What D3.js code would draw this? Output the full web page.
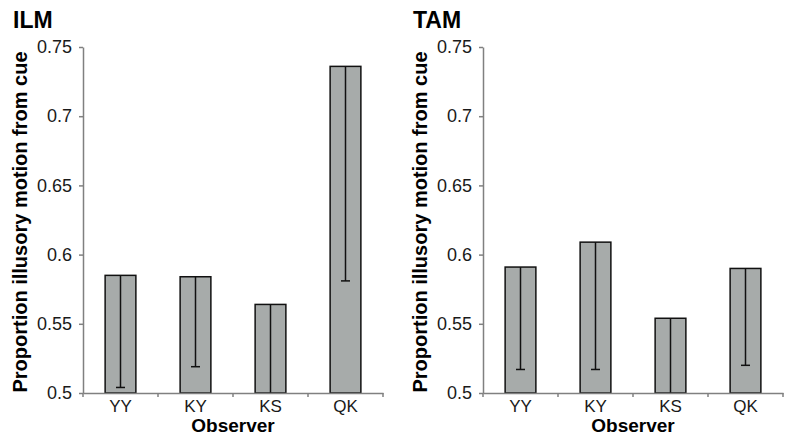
<!DOCTYPE html>
<html>
<head>
<meta charset="utf-8">
<script src="https://cdn.jsdelivr.net/npm/d3@7"></script>
<style>
  body { margin: 0; background: #fff; }
  svg { font-family: "Liberation Sans", Arial, sans-serif; }
</style>
</head>
<body>
<div id="chart"></div>
<script>
// observers on the x axis
const observers = ['YY', 'KY', 'KS', 'QK'];

// mean proportions and (minus) error sizes, per panel
const ilmMeans = [0.585, 0.584, 0.564, 0.736];
const ilmErrors = [0.081, 0.065, 0.075, 0.155];
const tamMeans = [0.591, 0.609, 0.554, 0.590];
const tamErrors = [0.074, 0.092, 0.065, 0.070];

const yTicks = [0.5, 0.55, 0.6, 0.65, 0.7, 0.75];

const panels = [
  { title: 'ILM', means: ilmMeans, errors: ilmErrors, offset: 0 },
  { title: 'TAM', means: tamMeans, errors: tamErrors, offset: 400 }
];

const svgWidth = 791;
const svgHeight = 436;

const svg = d3.select('#chart')
  .append('svg')
  .attr('width', svgWidth)
  .attr('height', svgHeight);

const axisColor = '#808080';

panels.forEach((p, pi) => {
  const g = svg.append('g').attr('transform', `translate(${p.offset},0)`);

  const x = d3.scaleBand().domain(observers).range([83, 383]).padding(0);
  const y = d3.scaleLinear().domain([0.5, 0.75]).range([393, 47]);
  const barW = x.bandwidth() * 0.41;

  const clipId = 'clip' + pi;
  g.append('clipPath').attr('id', clipId)
    .append('rect').attr('x', 83).attr('y', 40).attr('width', 300).attr('height', 353);

  const rows = observers.map((o, i) => ({ o, m: p.means[i], e: p.errors[i] }));

  // bars
  g.append('g').selectAll('rect')
    .data(rows)
    .enter().append('rect')
    .attr('x', d => x(d.o) + (x.bandwidth() - barW) / 2)
    .attr('y', d => y(d.m))
    .attr('width', barW)
    .attr('height', d => y(0.5) - y(d.m))
    .attr('fill', '#a7abaa')
    .attr('stroke', '#111')
    .attr('stroke-width', 1.5);

  // error bars (minus only)
  const eb = g.append('g').attr('clip-path', `url(#${clipId})`)
    .selectAll('g').data(rows).enter().append('g');
  eb.append('line')
    .attr('x1', d => x(d.o) + x.bandwidth() / 2)
    .attr('x2', d => x(d.o) + x.bandwidth() / 2)
    .attr('y1', d => y(d.m))
    .attr('y2', d => y(d.m - d.e))
    .attr('stroke', '#111').attr('stroke-width', 1.5);
  eb.append('line')
    .attr('x1', d => x(d.o) + x.bandwidth() / 2 - 4.5)
    .attr('x2', d => x(d.o) + x.bandwidth() / 2 + 4.5)
    .attr('y1', d => y(d.m - d.e))
    .attr('y2', d => y(d.m - d.e))
    .attr('stroke', '#111').attr('stroke-width', 1.5);

  // y axis
  const yAxis = g.append('g')
    .attr('transform', 'translate(83,0)')
    .call(d3.axisLeft(y).tickValues(yTicks).tickSize(4).tickSizeOuter(0).tickPadding(7)
      .tickFormat(d => String(+d.toFixed(2))));
  yAxis.select('.domain').attr('stroke', axisColor).attr('stroke-width', 1.5);
  yAxis.selectAll('.tick line').attr('stroke', axisColor).attr('stroke-width', 1.5);
  yAxis.selectAll('.tick text').attr('font-size', 18).attr('fill', '#1a1a1a')
    .attr('font-family', '"Liberation Sans", Arial, sans-serif');

  // x axis
  const xAxis = g.append('g')
    .attr('transform', 'translate(0,393)')
    .call(d3.axisBottom(x).tickSize(0).tickSizeOuter(0).tickPadding(7));
  xAxis.select('.domain').attr('stroke', axisColor).attr('stroke-width', 1.5);
  xAxis.selectAll('.tick text').attr('font-size', 17).attr('fill', '#1a1a1a')
    .attr('font-family', '"Liberation Sans", Arial, sans-serif');
  // category boundary ticks
  const bounds = observers.map(o => x(o)).concat([x.range()[1]]);
  xAxis.selectAll('line.bound')
    .data(bounds)
    .enter().append('line')
    .attr('class', 'bound')
    .attr('x1', d => d).attr('x2', d => d)
    .attr('y1', 0).attr('y2', 4)
    .attr('stroke', axisColor).attr('stroke-width', 1.5);

  // titles
  g.append('text')
    .attr('x', 13).attr('y', 28)
    .attr('font-size', 23).attr('font-weight', 'bold')
    .text(p.title);

  g.append('text')
    .attr('x', 233).attr('y', 432)
    .attr('text-anchor', 'middle')
    .attr('font-size', 19).attr('font-weight', 'bold')
    .text('Observer');

  g.append('text')
    .attr('transform', 'translate(27,222) rotate(-90)')
    .attr('text-anchor', 'middle')
    .attr('font-size', 20).attr('font-weight', 'bold')
    .text('Proportion illusory motion from cue');
});
</script>
</body>
</html>
